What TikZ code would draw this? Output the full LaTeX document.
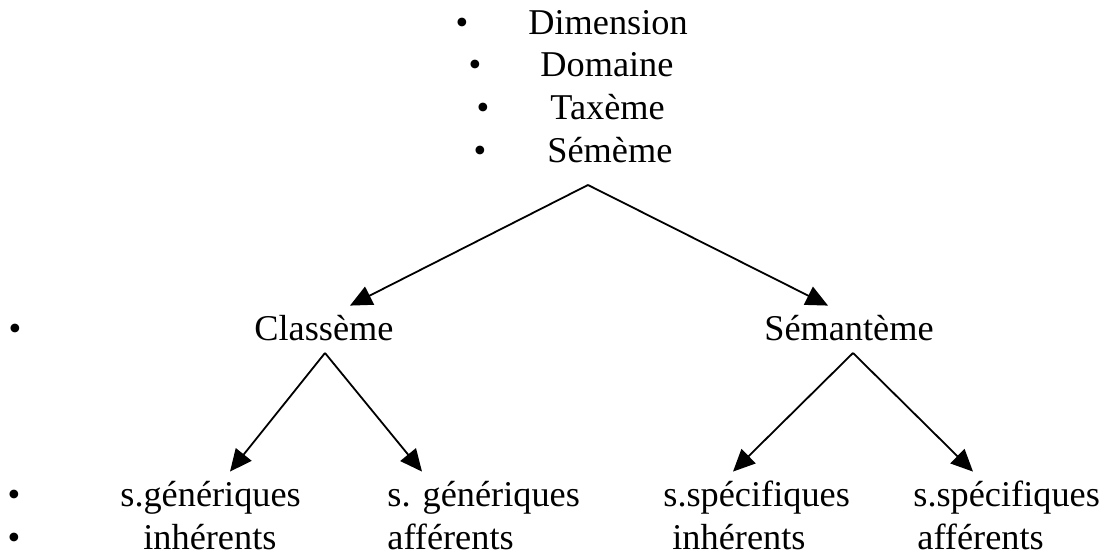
\documentclass[tikz,border=0pt]{standalone}
\usepackage{fontspec}
\setmainfont{Liberation Serif}
\usetikzlibrary{arrows.meta}
\begin{document}
\begin{tikzpicture}[x=0.5pt,y=-0.5pt,font=\fontsize{18.15}{21}\selectfont]
\tikzstyle{every node}+=[inner sep=0pt]
\tikzstyle{bul}=[anchor=base]
\tikzstyle{word}=[anchor=base west,text height=17.5pt,text depth=4pt]
\tikzstyle{lvl}=[anchor=base,text height=17.5pt,text depth=4pt]
\tikzstyle{link}=[black,line width=0.9pt,-{Triangle[length=11pt,width=10pt]}]
\useasboundingbox (0,0) rectangle (1109,555);
% top list
\node [bul] (b1) at (462,35) {•};
\node [word] (dim) at (528,35) {Dimension};
\node [bul] (b2) at (475,77) {•};
\node [word] (dom) at (540,77) {Domaine};
\node [bul] (b3) at (483,120) {•};
\node [word] (tax) at (550,120) {Taxème};
\node [bul] (b4) at (480,163) {•};
\node [word] (sem) at (547,163) {Sémème};
% middle row
\node [bul] (b5) at (15,341) {•};
\node [lvl] (cls) at (324,341) {Classème};
\node [lvl] (smt) at (849,341) {Sémantème};
% bottom rows
\node [bul] (b6) at (14,507) {•};
\node [bul] (b7) at (14,550) {•};
\node [word] (gin) at (120,507) {s.génériques};
\node [word] (gin2) at (143,550) {inhérents};
\node [word] (gaf) at (387,507) {s. génériques};
\node [word] (gaf2) at (387,550) {afférents};
\node [word] (sin) at (663,507) {s.spécifiques};
\node [word] (sin2) at (672,550) {inhérents};
\node [word] (saf) at (913,507) {s.spécifiques};
\node [word] (saf2) at (917,550) {afférents};
% forks
\coordinate (f0) at (588,185);
\coordinate (f1) at (325,353);
\coordinate (f2) at (853,353);
\draw [link] (f0) -- ([xshift=13pt]cls.north);
\draw [link] (f0) -- ([xshift=-10.5pt]smt.north);
\draw [link] (f1) -- ([xshift=55pt]gin.north west);
\draw [link] (f1) -- ([xshift=17.5pt]gaf.north west);
\draw [link] (f2) -- ([xshift=35pt]sin.north west);
\draw [link] (f2) -- ([xshift=30pt]saf.north west);
\end{tikzpicture}
\end{document}
